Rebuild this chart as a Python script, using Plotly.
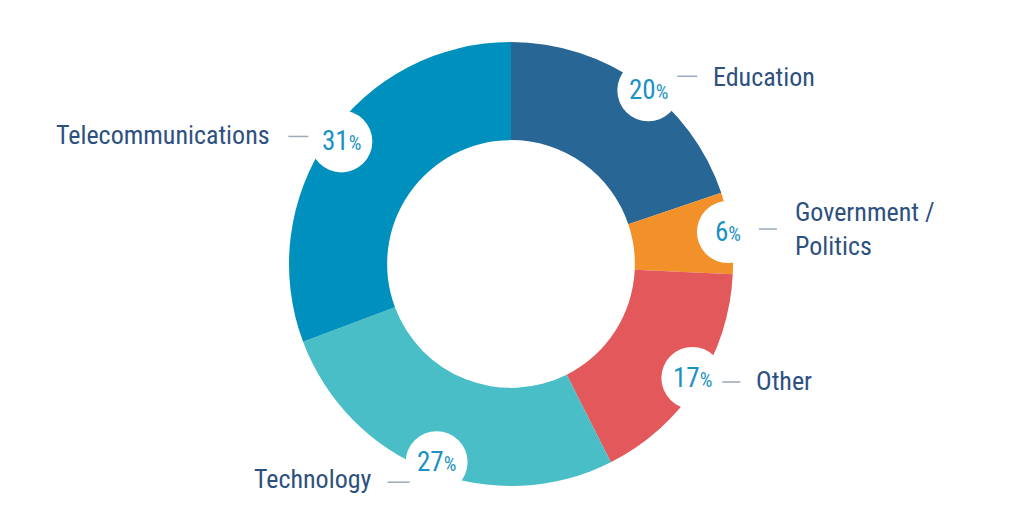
import math
import plotly.graph_objects as go

# ---- data ----
categories = ["Education", "Government / Politics", "Other", "Technology", "Telecommunications"]
values = [20, 6, 17, 27, 31]
label_text = ["Education", "Government /<br>Politics", "Other", "Technology", "Telecommunications"]
colors = ["#276695", "#F29029", "#E2585B", "#4ABEC6", "#0090BD"]

# ---- layout constants (pixels, screen coordinates) ----
PAGE_OFF = 8  # default body margin of the html page
W, H = 1033, 521
CX, CY, R = 511 - PAGE_OFF, 264 - PAGE_OFF, 222
ML, MT = CX - R, CY - R
MR, MB = W - (CX + R), H - (CY + R)
BADGE_R = 31
BADGE_DIST = 215
# small per-badge nudges (pixels) from the slice mid-angle position
badge_nudge = [(12, 1), (4, -2), (1, -3), (4, -2), (7, 0)]

PCT_COLOR = "#1B92C4"
LBL_COLOR = "#2D5080"
DASH_COLOR = "#9AA9BC"
FONT = "Roboto Condensed, Liberation Sans Narrow, Roboto, sans-serif"

# label placement relative to each badge: (dash x0, dash x1, dash y, label x, label y, anchor)
label_place = [
    (29, 49, -14, 63, -13, "left"),
    (31, 49, -3, 65, -3, "left"),
    (30, 48, 4, 62, 3, "left"),
    (-49, -27, 20, -63, 17, "right"),
    (-53, -33, -5, -69, -6, "right"),
]


def px(x):
    return (x - ML) / (2 * R)


def py(y):
    return (H - MB - y) / (2 * R)


fig = go.Figure(
    go.Pie(
        labels=categories,
        values=values,
        marker=dict(colors=colors, line=dict(width=0)),
        sort=False,
        direction="clockwise",
        rotation=0,
        hole=0.558,
        textinfo="none",
        hoverinfo="label+value",
        showlegend=False,
    )
)

total = sum(values)
shapes = []
annotations = []
cum = 0
for i, v in enumerate(values):
    mid = (cum + v / 2) / total * 2 * math.pi
    cum += v
    bx = CX + BADGE_DIST * math.sin(mid) + badge_nudge[i][0]
    by = CY - BADGE_DIST * math.cos(mid) + badge_nudge[i][1]
    shapes.append(dict(type="circle", xref="paper", yref="paper",
                       x0=px(bx - BADGE_R), x1=px(bx + BADGE_R),
                       y0=py(by + BADGE_R), y1=py(by - BADGE_R),
                       fillcolor="white", line=dict(width=0), layer="above"))
    annotations.append(dict(xref="paper", yref="paper", x=px(bx), y=py(by),
                            text=f"{v}<span style='font-size:20px'>%</span>",
                            showarrow=False, xanchor="center", yanchor="middle",
                            font=dict(family=FONT, size=27, color=PCT_COLOR)))
    dx0, dx1, dy, lx, ly, anc = label_place[i]
    shapes.append(dict(type="line", xref="paper", yref="paper",
                       x0=px(bx + dx0), x1=px(bx + dx1), y0=py(by + dy), y1=py(by + dy),
                       line=dict(color=DASH_COLOR, width=1.5), layer="above"))
    annotations.append(dict(xref="paper", yref="paper", x=px(bx + lx), y=py(by + ly),
                            text=label_text[i], showarrow=False, xanchor=anc, yanchor="middle",
                            align="left", font=dict(family=FONT, size=26, color=LBL_COLOR)))

fig.update_layout(
    width=W, height=H,
    margin=dict(l=ML, r=MR, t=MT, b=MB),
    paper_bgcolor="white", plot_bgcolor="white",
    shapes=shapes, annotations=annotations,
)

fig.write_html("out.html")
